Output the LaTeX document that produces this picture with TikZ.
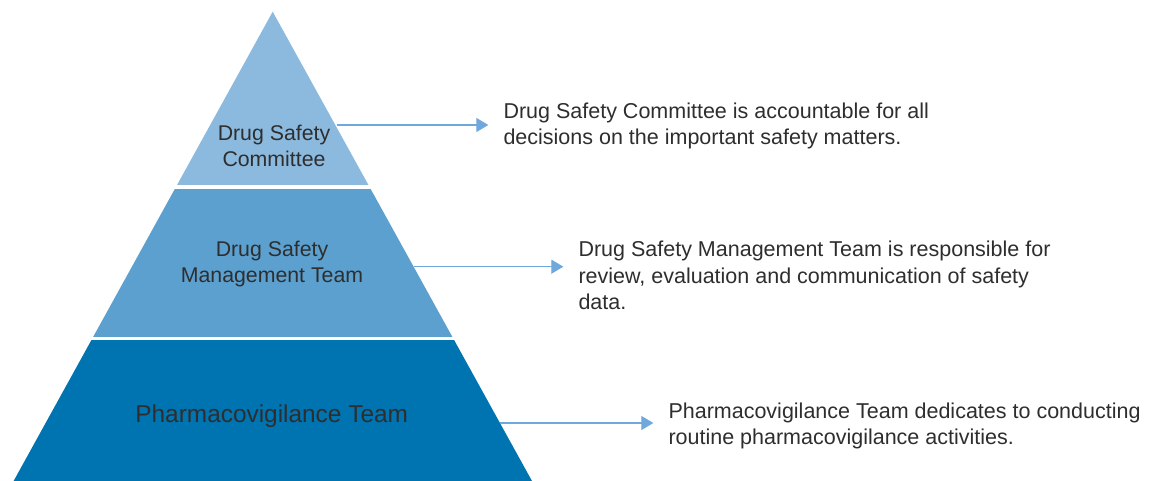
\documentclass[tikz,border=0pt]{standalone}
\usepackage{fontspec}
\setmainfont{Liberation Sans}
\usetikzlibrary{arrows.meta}
\definecolor{tierA}{HTML}{8CB9DE}
\definecolor{tierB}{HTML}{5CA0CF}
\definecolor{tierC}{HTML}{0073B1}
\definecolor{arrowc}{HTML}{6FA8DC}
\definecolor{txt}{HTML}{2E2E2E}
\begin{document}
\begin{tikzpicture}[x=1pt,y=-1pt,
  tierlabel/.style={font=\fontsize{21.3}{26}\selectfont, text=txt, align=center, inner sep=0pt},
  desc/.style={font=\fontsize{21.5}{26.4}\selectfont, text=txt, align=left, inner sep=0pt, anchor=north west},
  conn/.style={draw=arrowc, line width=1.3pt, -{Triangle[length=12pt,width=14pt]}, shorten >=15pt}]
\useasboundingbox (0,0) rectangle (1159,481);
\coordinate (apex) at (272.7,11.7);
\coordinate (bl) at (13.6,481);
\coordinate (br) at (532,481);
\begin{scope}
  \clip (apex) -- (bl) -- (br) -- cycle;
  \fill[tierA] (0,0) rectangle (1159,185);
  \fill[tierB] (0,189) rectangle (1159,337);
  \fill[tierC] (0,340) rectangle (1159,482);
\end{scope}
% tier labels
\node[tierlabel, anchor=north] (dsc) at (274,124.5) {Drug Safety\\Committee};
\node[tierlabel, anchor=north] (dsm) at (272,240.5) {Drug Safety\\Management Team};
\node[tierlabel, font=\fontsize{24.4}{28}\selectfont, anchor=base] (pvt) at (271.7,422.7) {Pharmacovigilance Team};
% descriptions
\node[desc] (t1) at (503.3,102.6) {Drug Safety Committee is accountable for all\\decisions on the important safety matters.};
\node[desc] (t2) at (578.3,241) {Drug Safety Management Team is responsible for\\review, evaluation and communication of safety\\data.};
\node[desc] (t3) at (668.3,402.3) {Pharmacovigilance Team dedicates to conducting\\routine pharmacovigilance activities.};
% connectors
\coordinate (s1) at (337,125);
\coordinate (s2) at (413.5,266.7);
\coordinate (s3) at (500,423);
\draw[conn] (s1) -- (s1 -| t1.west);
\draw[conn] (s2) -- (s2 -| t2.west);
\draw[conn] (s3) -- (s3 -| t3.west);
\end{tikzpicture}
\end{document}
